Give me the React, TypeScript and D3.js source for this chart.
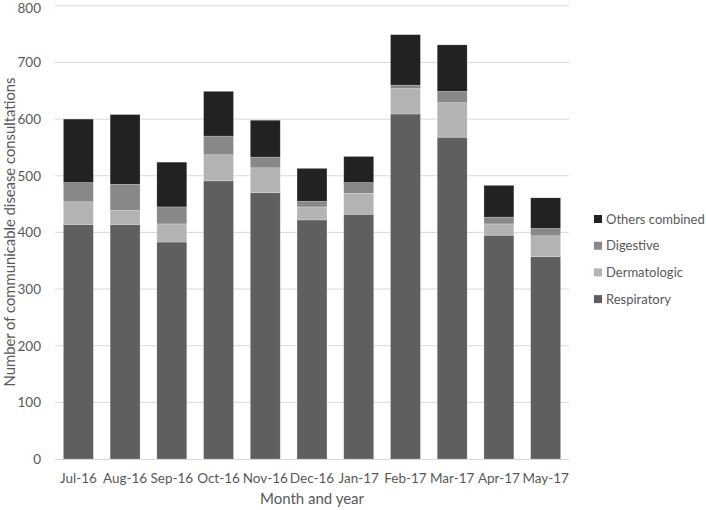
import * as d3 from "d3";
import { useRef, useEffect } from "react";

const months = ["Jul-16", "Aug-16", "Sep-16", "Oct-16", "Nov-16", "Dec-16", "Jan-17", "Feb-17", "Mar-17", "Apr-17", "May-17"];
const respiratory = [414, 414, 383, 491, 470, 422, 432, 609, 568, 395, 357];
const dermatologic = [40, 25, 32, 46, 44, 23, 37, 45, 61, 20, 37];
const digestive = [34, 46, 30, 33, 19, 10, 19, 6, 20, 12, 13];
const others = [112, 123, 79, 79, 65, 58, 46, 89, 82, 56, 54];
const seriesNames = ["Respiratory", "Dermatologic", "Digestive", "Others combined"];
const seriesColors = ["#5f5f5f", "#b3b3b3", "#888888", "#222222"];
const yTicks = [0, 100, 200, 300, 400, 500, 600, 700, 800];

const width = 706;
const height = 510;
const font = "Lato, 'Open Sans', sans-serif";

export default function App() {
  const ref = useRef<SVGSVGElement | null>(null);

  useEffect(() => {
    const svg = d3.select(ref.current);
    svg.selectAll("*").remove();

    const marginLeft = 55;
    const plotRight = 569;
    const y0 = 459;
    const yTop = 5.8;

    const x = d3.scaleBand<string>().domain(months).range([marginLeft, plotRight]).paddingInner(0.36).paddingOuter(0.18);
    const y = d3.scaleLinear().domain([0, 800]).range([y0, yTop]);

    const table = months.map((m, i) => ({
      month: m,
      Respiratory: respiratory[i],
      Dermatologic: dermatologic[i],
      Digestive: digestive[i],
      "Others combined": others[i],
    }));
    const stacked = d3.stack<any>().keys(seriesNames)(table);

    // gridlines
    svg.append("g")
      .selectAll("line")
      .data(yTicks.filter(t => t > 0))
      .join("line")
      .attr("x1", marginLeft)
      .attr("x2", plotRight)
      .attr("y1", d => y(d))
      .attr("y2", d => y(d))
      .attr("stroke", "#d9d9d9")
      .attr("stroke-width", 1);

    // y tick labels (keep the top one inside the frame)
    svg.append("g")
      .selectAll("text")
      .data(yTicks)
      .join("text")
      .attr("x", 41)
      .attr("y", d => Math.max(y(d) + 4.8, 13))
      .attr("text-anchor", "end")
      .attr("fill", "#595959")
      .style("font", `13.5px ${font}`)
      .text(d => d);

    // bars
    svg.append("g")
      .selectAll("g")
      .data(stacked)
      .join("g")
      .attr("fill", (d, i) => seriesColors[i])
      .selectAll("rect")
      .data(d => d)
      .join("rect")
      .attr("x", d => x(d.data.month) as number)
      .attr("width", x.bandwidth())
      .attr("y", d => y(d[1]))
      .attr("height", d => y(d[0]) - y(d[1]))
      .attr("stroke", "#ffffff")
      .attr("stroke-opacity", 0.35)
      .attr("stroke-width", 0.6);

    // x axis line
    svg.append("line")
      .attr("x1", marginLeft)
      .attr("x2", plotRight)
      .attr("y1", y0 + 0.5)
      .attr("y2", y0 + 0.5)
      .attr("stroke", "#d9d9d9");

    // x tick labels
    svg.append("g")
      .selectAll("text")
      .data(months)
      .join("text")
      .attr("x", d => (x(d) as number) + x.bandwidth() / 2)
      .attr("y", 478)
      .attr("dy", "0.35em")
      .attr("text-anchor", "middle")
      .attr("fill", "#595959")
      .style("font", `13.5px ${font}`)
      .text(d => d);

    // axis titles
    svg.append("text")
      .attr("x", (marginLeft + plotRight) / 2)
      .attr("y", 499)
      .attr("dy", "0.35em")
      .attr("text-anchor", "middle")
      .attr("fill", "#595959")
      .style("font", `15px ${font}`)
      .text("Month and year");

    svg.append("text")
      .attr("transform", `translate(10,232) rotate(-90)`)
      .attr("dy", "0.35em")
      .attr("text-anchor", "middle")
      .attr("fill", "#595959")
      .style("font", `14.8px ${font}`)
      .text("Number of communicable disease consultations");

    // legend (reverse order)
    const legendRows = seriesNames.map((n, i) => ({ name: n, color: seriesColors[i] })).reverse();
    const legend = svg.append("g")
      .selectAll("g")
      .data(legendRows)
      .join("g")
      .attr("transform", (d, i) => `translate(594,${219 + i * 26.7})`);
    legend.append("rect")
      .attr("x", 0)
      .attr("y", -4)
      .attr("width", 8)
      .attr("height", 8)
      .attr("fill", d => d.color);
    legend.append("text")
      .attr("x", 12)
      .attr("dy", "0.35em")
      .attr("fill", "#595959")
      .style("font", `13px ${font}`)
      .text(d => d.name);
  }, []);

  return (
    <svg
      ref={ref}
      width={width}
      height={height}
      style={{ position: "absolute", left: 0, top: 0, background: "#fff" }}
    />
  );
}
